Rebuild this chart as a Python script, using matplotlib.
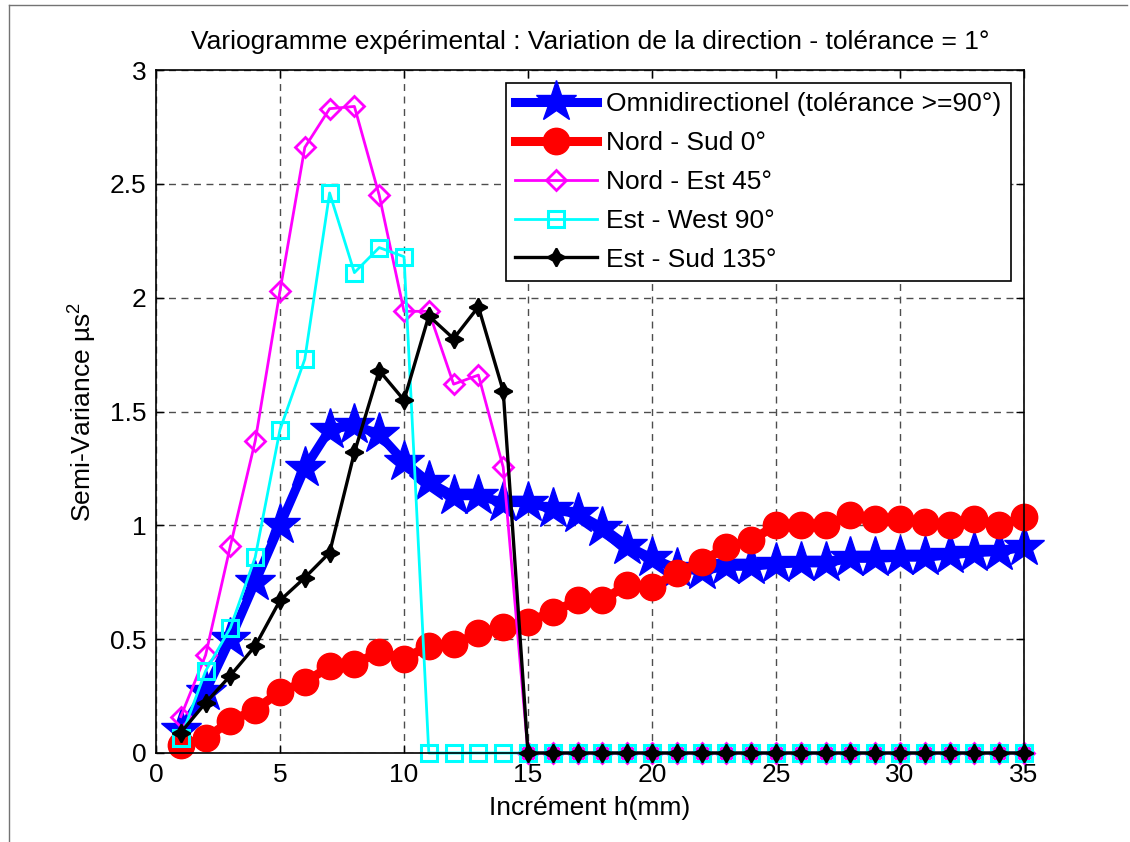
import matplotlib
matplotlib.use("Agg")
import matplotlib.pyplot as plt
from matplotlib.lines import Line2D

plt.rcParams['font.family'] = ['Liberation Sans', 'DejaVu Sans']
plt.rcParams['mathtext.fontset'] = 'custom'
plt.rcParams['mathtext.rm'] = 'Liberation Sans'
plt.rcParams['mathtext.it'] = 'Liberation Sans'

# Lag distances h (mm)
h = list(range(1, 36))

# Semi-variance per direction
omni = [0.10, 0.27, 0.50, 0.75, 1.00, 1.25, 1.42, 1.44, 1.40, 1.28,
        1.19, 1.13, 1.13, 1.10, 1.10, 1.07, 1.05, 0.99, 0.91, 0.855,
        0.81, 0.80, 0.82, 0.82, 0.83, 0.835, 0.835, 0.855, 0.855, 0.86,
        0.86, 0.87, 0.88, 0.885, 0.905]
nord_sud = [0.035, 0.065, 0.14, 0.19, 0.27, 0.31, 0.38, 0.39, 0.445, 0.415,
            0.47, 0.48, 0.525, 0.555, 0.577, 0.62, 0.67, 0.67, 0.74, 0.73,
            0.79, 0.84, 0.905, 0.935, 1.00, 1.00, 1.00, 1.045, 1.03, 1.03,
            1.015, 1.00, 1.03, 1.00, 1.035]
nord_est = [0.16, 0.43, 0.91, 1.37, 2.03, 2.66, 2.83, 2.84, 2.45, 1.94,
            1.94, 1.62, 1.66, 1.255, 0, 0, 0, 0, 0, 0,
            0, 0, 0, 0, 0, 0, 0, 0, 0, 0,
            0, 0, 0, 0, 0]
est_west = [0.065, 0.36, 0.55, 0.86, 1.42, 1.73, 2.46, 2.11, 2.22, 2.18,
            0, 0, 0, 0, 0, 0, 0, 0, 0, 0,
            0, 0, 0, 0, 0, 0, 0, 0, 0, 0,
            0, 0, 0, 0, 0]
est_sud = [0.09, 0.22, 0.34, 0.47, 0.67, 0.77, 0.88, 1.32, 1.68, 1.55,
           1.92, 1.82, 1.96, 1.59, 0, 0, 0, 0, 0, 0,
           0, 0, 0, 0, 0, 0, 0, 0, 0, 0,
           0, 0, 0, 0, 0]

labels = ["Omnidirectionel (tolérance >=90°)", "Nord - Sud 0°",
          "Nord - Est 45°", "Est - West 90°", "Est - Sud 135°"]
xticks = [0, 5, 10, 15, 20, 25, 30, 35]
yticks = [0, 0.5, 1, 1.5, 2, 2.5, 3]
ytick_labels = ['0', '0.5', '1', '1.5', '2', '2.5', '3']

FS = 19
W, H = 1130, 842
fig = plt.figure(figsize=(W / 100, H / 100), dpi=100)
ax = fig.add_axes([156 / W, 1 - 753 / H, 868 / W, 683 / H])

ax.plot(h, omni, color='#0000ff', lw=6.5, marker='*', ms=31, mew=1,
        label=labels[0], clip_on=False)
ax.plot(h, nord_sud, color='#ff0000', lw=6.5, marker='o', ms=19,
        label=labels[1], clip_on=False)
ax.plot(h, nord_est, color='#ff00ff', lw=2, marker='D', ms=10.5, mew=2,
        mfc='none', label=labels[2], clip_on=False)
ax.plot(h, est_west, color='#00ffff', lw=2, marker='s', ms=12, mew=2.2,
        mfc='none', label=labels[3], clip_on=False)
ax.plot(h, est_sud, color='black', lw=2.4, marker=(4, 1, 0), ms=13, mew=1.5,
        label=labels[4], clip_on=False)

ax.set_xlim(0, 35)
ax.set_ylim(0, 3)
ax.set_xticks(xticks)
ax.set_xticklabels([str(v) for v in xticks])
ax.set_yticks(yticks)
ax.set_yticklabels(ytick_labels)
ax.tick_params(direction='in', top=True, right=True, length=6, width=1,
               labelsize=FS, pad=7)
ax.grid(True, color='0.3', linestyle=(0, (5, 4)), linewidth=1)
for s in ax.spines.values():
    s.set_linewidth(1.2)

ax.set_title("Variogramme expérimental : Variation de la direction - tolérance = 1°",
             fontsize=FS, pad=15)
ax.set_xlabel("Incrément h(mm)", fontsize=FS, labelpad=7)
ax.set_ylabel("Semi-Variance µs$^2$", fontsize=FS, labelpad=8)

leg = ax.legend(loc='upper right', fontsize=FS, handlelength=3.1,
                handletextpad=0.35, labelspacing=0.56, borderaxespad=0.5,
                fancybox=False, framealpha=1, edgecolor='black',
                borderpad=0.35)
leg.get_frame().set_linewidth(1.2)
leg.set_zorder(5)

# Partial frame around the figure
fig.add_artist(Line2D([9 / W, 1127 / W], [1 - 5 / H, 1 - 5 / H],
                      transform=fig.transFigure, color='0.45', lw=1))
fig.add_artist(Line2D([9 / W, 9 / W], [0, 1 - 5 / H],
                      transform=fig.transFigure, color='0.45', lw=1))

fig.savefig("out.png", dpi=100, facecolor='white')
